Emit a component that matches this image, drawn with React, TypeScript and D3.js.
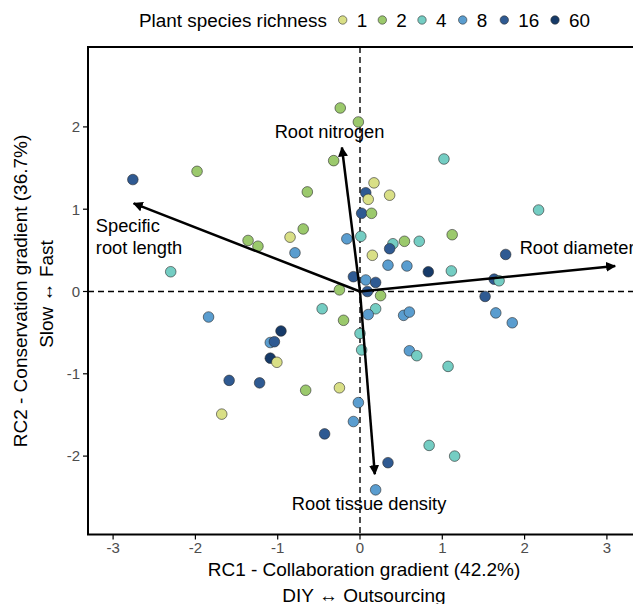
import React from "react";
import * as d3 from "d3";

const xs = [-0.24,-0.02,-2.76,-1.98,-0.32,-0.64,0.17,0.07,0.36,0.10,0.02,0.14,-0.69,-1.36,-1.24,-0.85,-0.16,0.01,0.15,-0.79,-2.30,-0.08,0.07,0.19,-0.25,0.09,-0.46,0.19,1.02,2.17,0.40,0.36,0.54,0.72,1.12,1.77,0.34,0.57,0.83,1.11,1.63,1.69,0.25,1.52,0.10,0.53,0.60,1.65,1.85,-0.20,0.00,0.02,0.60,0.69,1.07,-1.84,-0.96,-1.09,-1.04,-1.09,-1.01,-1.59,-1.22,-0.66,-0.25,-1.68,-0.02,-0.08,-0.43,0.19,0.84,1.15,0.34];
const ys = [2.23,2.06,1.36,1.46,1.59,1.21,1.32,1.20,1.17,1.12,0.95,0.95,0.76,0.62,0.55,0.66,0.64,0.67,0.44,0.47,0.24,0.18,0.14,0.11,0.02,0.00,-0.21,-0.21,1.61,0.99,0.58,0.52,0.61,0.61,0.69,0.45,0.32,0.31,0.24,0.25,0.15,0.13,-0.05,-0.06,-0.28,-0.29,-0.25,-0.26,-0.38,-0.35,-0.51,-0.71,-0.72,-0.78,-0.91,-0.31,-0.48,-0.62,-0.61,-0.81,-0.86,-1.08,-1.11,-1.20,-1.17,-1.49,-1.35,-1.58,-1.73,-2.41,-1.87,-2.00,-2.08];
const richness = [2,2,16,2,2,2,1,16,1,1,16,2,2,2,2,1,8,4,1,8,4,16,8,16,2,16,4,4,4,4,4,16,2,4,2,16,8,8,60,4,16,4,2,16,8,8,8,8,8,2,4,4,8,4,4,8,60,8,16,60,1,16,16,2,1,1,8,8,16,8,4,4,16];

const levels = [1, 2, 4, 8, 16, 60];
const levelColors = ["#d9df86", "#9bc96c", "#74cdc3", "#5a9dcf", "#2f5a92", "#163a68"];

const traits = ["Root nitrogen", "Specific root length", "Root diameter", "Root tissue density"];
const loadX = [-0.22, -2.75, 3.1, 0.18];
const loadY = [1.75, 1.07, 0.31, -2.22];

const xTicks = [-3, -2, -1, 0, 1, 2, 3];
const yTicks = [-2, -1, 0, 1, 2];

const FONT = "'Liberation Sans', Arial, Helvetica, sans-serif";

export default function App() {
  const W = 633, H = 604;
  const unit = 82.3;
  const x0 = 360, y0 = 291.5;
  const left = 88, top = 47, bottom = 534.5, right = 640;
  const x = d3.scaleLinear().domain([0, 1]).range([x0, x0 + unit]);
  const y = d3.scaleLinear().domain([0, 1]).range([y0, y0 - unit]);
  const color = d3.scaleOrdinal<number, string>().domain(levels).range(levelColors);

  const labelLines = [["Root nitrogen"], ["Specific", "root length"], ["Root diameter"], ["Root tissue density"]];
  const labelAnchor = ["middle", "start", "start", "middle"];
  // label anchor positions in data units
  const labelX = [-0.37, -3.21, 1.94, 0.11];
  const labelY = [1.86, 0.72, 0.45, -2.66];

  const legendX = [342.7, 382.3, 422, 462.7, 504.3, 555];

  return (
    <svg width={W} height={H} style={{ position: "absolute", left: 0, top: 0, background: "#fff" }}>
      <defs>
        <marker id="ah" viewBox="0 0 10 10" refX="9" refY="5" markerWidth="4" markerHeight="4" orient="auto" markerUnits="strokeWidth">
          <path d="M0,0 L10,5 L0,10 z" fill="#000" />
        </marker>
        <clipPath id="pc"><rect x={left} y={top} width={right - left} height={bottom - top} /></clipPath>
      </defs>
      <rect x={0} y={0} width={W} height={H} fill="#fff" />
      {/* legend */}
      <text x={139} y={26.5} fontFamily={FONT} fontSize={18.9} fill="#000">Plant species richness</text>
      {levels.map((l, i) => (
        <g key={l}>
          <circle cx={legendX[i]} cy={20} r={4.2} fill={color(l)} stroke="#333" strokeWidth={0.6} />
          <text x={legendX[i] + 14} y={27} fontFamily={FONT} fontSize={18.9} fill="#000">{l}</text>
        </g>
      ))}
      {/* reference lines */}
      <g clipPath="url(#pc)">
        <line x1={left} x2={right} y1={y(0)} y2={y(0)} stroke="#000" strokeWidth={1.4} strokeDasharray="6,4" />
        <line x1={x(0)} x2={x(0)} y1={top} y2={bottom} stroke="#000" strokeWidth={1.4} strokeDasharray="6,4" />
        {xs.map((v, i) => (
          <circle key={i} cx={x(v)} cy={y(ys[i])} r={5.3} fill={color(richness[i])} stroke="#2a2a2a" strokeWidth={0.6} />
        ))}
        {traits.map((t, i) => (
          <line key={t} x1={x(0)} y1={y(0)} x2={x(loadX[i])} y2={y(loadY[i])} stroke="#000" strokeWidth={2.5} markerEnd="url(#ah)" />
        ))}
      </g>
      {traits.map((t, i) => (
        <text key={t} x={x(labelX[i])} y={y(labelY[i])} textAnchor={labelAnchor[i]} fontFamily={FONT} fontSize={18.3} fill="#000">
          {labelLines[i].map((ln, j) => (
            <tspan key={j} x={x(labelX[i])} dy={j === 0 ? 0 : 21.6}>{ln}</tspan>
          ))}
        </text>
      ))}
      {/* frame */}
      <rect x={left} y={top} width={right - left} height={bottom - top} fill="none" stroke="#000" strokeWidth={2} />
      {/* x axis ticks */}
      {xTicks.map((t) => (
        <g key={t}>
          <line x1={x(t)} x2={x(t)} y1={bottom} y2={bottom + 5} stroke="#000" strokeWidth={1.2} />
          <text x={x(t)} y={bottom + 18.5} textAnchor="middle" fontFamily={FONT} fontSize={15} fill="#4d4d4d">{t}</text>
        </g>
      ))}
      {yTicks.map((t) => (
        <g key={t}>
          <line x1={left - 5} x2={left} y1={y(t)} y2={y(t)} stroke="#000" strokeWidth={1.2} />
          <text x={left - 8} y={y(t) + 5.3} textAnchor="end" fontFamily={FONT} fontSize={15} fill="#4d4d4d">{t}</text>
        </g>
      ))}
      {/* axis titles */}
      <text x={364} y={576} textAnchor="middle" fontFamily={FONT} fontSize={19} fill="#000">RC1 - Collaboration gradient (42.2%)</text>
      <text x={364} y={602} textAnchor="middle" fontFamily={FONT} fontSize={19} fill="#000">DIY ↔ Outsourcing</text>
      <text transform={`translate(27,${291}) rotate(-90)`} textAnchor="middle" fontFamily={FONT} fontSize={19} fill="#000">RC2 - Conservation gradient (36.7%)</text>
      <text transform={`translate(53,${294}) rotate(-90)`} textAnchor="middle" fontFamily={FONT} fontSize={19} fill="#000">Slow ↔ Fast</text>
    </svg>
  );
}
